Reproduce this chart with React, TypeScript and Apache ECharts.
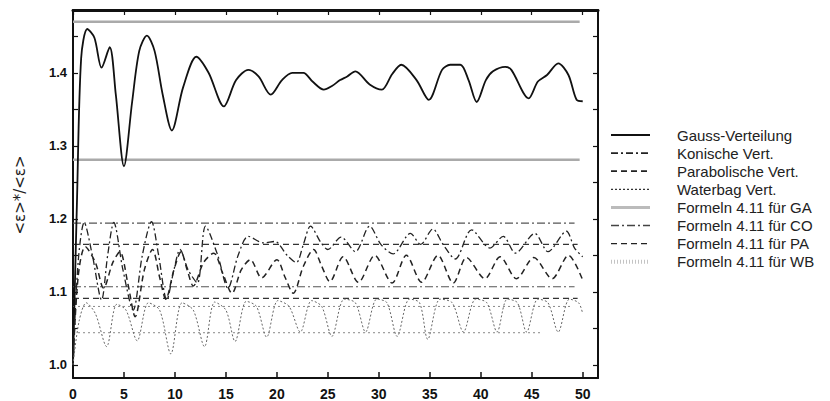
import React, { useEffect, useRef } from "react";
import * as echarts from "echarts";

// ---------- data ----------
const xTicks = [0, 5, 10, 15, 20, 25, 30, 35, 40, 45, 50];
const yLabels = [1.0, 1.1, 1.2, 1.3, 1.4];
const yTicks = [1.0, 1.05, 1.1, 1.15, 1.2, 1.25, 1.3, 1.35, 1.4, 1.45];

const seriesNames = [
  "Gauss-Verteilung",
  "Konische Vert.",
  "Parabolische Vert.",
  "Waterbag Vert.",
  "Formeln 4.11 für GA",
  "Formeln 4.11 für CO",
  "Formeln 4.11 für PA",
  "Formeln 4.11 für WB",
];

const gauss: [number, number][] = [
  [0, 1.0], [0.4, 1.23], [0.8, 1.42], [1.4, 1.46], [2.1, 1.448], [2.8, 1.407],
  [3.6, 1.435], [4.2, 1.37], [5.0, 1.272], [5.8, 1.36], [6.5, 1.43], [7.25, 1.451],
  [8.0, 1.43], [8.8, 1.37], [9.7, 1.321], [10.8, 1.38], [12.1, 1.422], [13.3, 1.4],
  [14.8, 1.354], [16.0, 1.39], [17.2, 1.404], [18.2, 1.395], [19.4, 1.37], [20.5, 1.39],
  [21.5, 1.4], [22.6, 1.4], [23.5, 1.388], [24.6, 1.377], [25.4, 1.382], [26.2, 1.39],
  [26.9, 1.395], [27.7, 1.402], [29.1, 1.384], [30.3, 1.377], [31.3, 1.398], [32.2, 1.411],
  [33.7, 1.39], [34.9, 1.363], [36.2, 1.404], [37.0, 1.411], [38.0, 1.411], [38.8, 1.39],
  [39.6, 1.36], [40.5, 1.39], [41.2, 1.402], [42.4, 1.408], [43.0, 1.404], [44.7, 1.365],
  [45.6, 1.388], [46.5, 1.397], [47.6, 1.413], [48.6, 1.397], [49.4, 1.363], [50.0, 1.361],
];

const konisch: [number, number][] = [
  [0, 1.0], [0.5, 1.14], [1.1, 1.195], [1.9, 1.15], [2.8, 1.089], [3.4, 1.15],
  [4.0, 1.195], [4.9, 1.13], [5.9, 1.075], [6.8, 1.15], [7.7, 1.196], [8.4, 1.15],
  [9.2, 1.089], [9.9, 1.13], [10.5, 1.158], [11.3, 1.13], [12.2, 1.112], [13.0, 1.19],
  [14.2, 1.15], [15.2, 1.105], [16.2, 1.15], [17.2, 1.176], [18.7, 1.167], [19.8, 1.169],
  [21.0, 1.15], [21.9, 1.14], [22.6, 1.165], [23.3, 1.19], [24.3, 1.168], [25.0, 1.158],
  [26.3, 1.175], [27.7, 1.155], [29.1, 1.19], [30.2, 1.165], [31.4, 1.152], [33.1, 1.18],
  [34.1, 1.165], [35.3, 1.186], [36.3, 1.165], [37.5, 1.145], [39.1, 1.185], [40.9, 1.16],
  [42.2, 1.176], [43.4, 1.153], [45.3, 1.18], [46.6, 1.155], [48.4, 1.183], [49.2, 1.16],
  [50.0, 1.148],
];

const parabol: [number, number][] = [
  [0, 1.0], [0.5, 1.12], [1.2, 1.162], [2.2, 1.14], [3.0, 1.105], [3.9, 1.14],
  [4.6, 1.155], [5.4, 1.11], [6.1, 1.066], [7.0, 1.13], [7.8, 1.158], [8.5, 1.12],
  [9.1, 1.09], [9.9, 1.13], [10.6, 1.155], [11.2, 1.13], [11.8, 1.108], [12.8, 1.14],
  [13.8, 1.153], [14.7, 1.125], [15.6, 1.098], [16.5, 1.13], [17.4, 1.144], [18.5, 1.119],
  [20.0, 1.144], [20.8, 1.12], [21.6, 1.098], [22.6, 1.135], [23.6, 1.158], [24.4, 1.135],
  [25.2, 1.114], [26.5, 1.148], [28.0, 1.113], [29.6, 1.15], [31.3, 1.112], [32.7, 1.15],
  [34.2, 1.113], [35.8, 1.15], [37.3, 1.112], [38.6, 1.147], [40.4, 1.118], [41.9, 1.148],
  [43.5, 1.118], [45.2, 1.147], [47.0, 1.118], [48.6, 1.15], [50.0, 1.116],
];

const waterbag: [number, number][] = [
  [0, 1.0], [0.6, 1.06], [1.3, 1.085], [2.2, 1.07], [3.3, 1.025], [4.3, 1.083],
  [5.2, 1.075], [6.3, 1.033], [7.4, 1.085], [8.5, 1.075], [9.6, 1.015], [10.7, 1.085],
  [11.8, 1.075], [12.9, 1.025], [13.9, 1.086], [15.0, 1.075], [15.9, 1.032], [17.0, 1.087],
  [18.0, 1.08], [19.0, 1.038], [20.1, 1.088], [21.2, 1.08], [22.3, 1.045], [23.4, 1.088],
  [24.4, 1.08], [25.4, 1.039], [26.6, 1.09], [27.7, 1.085], [28.7, 1.045], [29.8, 1.09],
  [30.8, 1.085], [31.8, 1.039], [33.0, 1.09], [34.0, 1.085], [34.8, 1.035], [36.0, 1.09],
  [37.2, 1.085], [38.3, 1.045], [39.5, 1.09], [40.6, 1.085], [41.6, 1.045], [42.6, 1.09],
  [43.6, 1.085], [44.5, 1.045], [45.6, 1.09], [46.6, 1.085], [47.6, 1.045], [48.7, 1.09],
  [49.6, 1.085], [50.0, 1.07],
];

// horizontal limits from "Formeln 4.11": [level, xStart, xEnd]
const gaLevels: [number, number, number][] = [[1.47, 0, 49.7], [1.281, 0, 49.7]];
const coLevels: [number, number, number][] = [[1.194, 0, 49.2], [1.107, 0, 49.2]];
const paLevels: [number, number, number][] = [[1.165, 0, 49.5], [1.091, 0, 49.5]];
const wbLevels: [number, number, number][] = [[1.08, 0, 49.0], [1.044, 0, 46.0]];

// line styles of the eight entries (plot + legend sample)
const styles: { color: string; width: number; dash: number[] | null; legendColor?: string; legendWidth?: number; legendDash?: number[] }[] = [
  { color: "#111", width: 1.8, dash: null, legendWidth: 2 },
  { color: "#222", width: 1.3, dash: [7, 3, 2, 3], legendWidth: 1.6 },
  { color: "#222", width: 1.5, dash: [6, 4], legendWidth: 1.8 },
  { color: "#666", width: 1, dash: [2, 2], legendColor: "#333", legendWidth: 1.3 },
  { color: "#aaa", width: 2.5, dash: null, legendColor: "#bbb", legendWidth: 3 },
  { color: "#555", width: 1.2, dash: [8, 3, 2, 3], legendColor: "#444", legendWidth: 1.3 },
  { color: "#333", width: 1.2, dash: [6, 4], legendColor: "#222", legendWidth: 1.2 },
  { color: "#888", width: 1, dash: [2, 3], legendColor: "#c4c4c4", legendWidth: 4, legendDash: [1, 2] },
];

export default function App() {
  const ref = useRef<HTMLDivElement>(null);

  useEffect(() => {
    if (!ref.current) return;
    const chart = echarts.init(ref.current, undefined, { renderer: "svg" });

    const ls = (i: number) => ({
      color: styles[i].color,
      width: styles[i].width,
      type: styles[i].dash ? styles[i].dash : "solid",
    });

    const curve = (i: number, data: [number, number][]) => ({
      name: seriesNames[i],
      type: "line",
      data,
      smooth: 0.3,
      symbol: "none",
      lineStyle: ls(i),
      itemStyle: { color: styles[i].color },
      z: 3,
    });

    const hlines = (i: number, levels: [number, number, number][]) =>
      levels.map(([y, x0, x1]) => ({
        name: seriesNames[i],
        type: "line",
        data: [[x0, y], [x1, y]],
        symbol: "none",
        lineStyle: ls(i),
        itemStyle: { color: styles[i].color },
        z: 2,
      }));

    const font = "Liberation Sans";
    const axisCommon = {
      type: "value",
      splitLine: { show: false },
      axisLine: { show: true, onZero: false, lineStyle: { color: "#111", width: 2 } },
    };

    // legend drawn as graphic (line sample + text per entry)
    const legendTop = 135;
    const legendStep = 18.1;
    const legendGraphics: any[] = [];
    seriesNames.forEach((name, i) => {
      const s = styles[i];
      const y = legendTop + i * legendStep;
      legendGraphics.push({
        type: "line",
        shape: { x1: 611, y1: y, x2: 650, y2: y },
        style: {
          stroke: s.legendColor || s.color,
          lineWidth: s.legendWidth || s.width,
          lineDash: s.legendDash || s.dash || null,
        },
      });
      legendGraphics.push({
        type: "text",
        x: 677,
        y,
        style: {
          text: name,
          fontFamily: font,
          fontSize: 15,
          fill: "#222",
          align: "left",
          verticalAlign: "middle",
        },
      });
    });

    chart.setOption({
      animation: false,
      backgroundColor: "#fff",
      grid: { left: 73, right: 232, top: 10, bottom: 23, show: false },
      xAxis: [
        {
          ...axisCommon,
          min: 0,
          max: 51.5,
          position: "bottom",
          axisTick: { show: true, inside: true, length: 6, customValues: xTicks, lineStyle: { color: "#111", width: 1.5 } },
          axisLabel: { customValues: xTicks, fontFamily: font, fontSize: 14, fontWeight: "bold", color: "#111", margin: 9 },
        },
        {
          ...axisCommon,
          min: 0,
          max: 51.5,
          position: "top",
          axisLine: { show: true, onZero: false, lineStyle: { color: "#111", width: 3 } },
          axisTick: { show: true, inside: true, length: 5, customValues: xTicks, lineStyle: { color: "#111", width: 1.2 } },
          axisLabel: { show: false },
        },
      ],
      yAxis: [
        {
          ...axisCommon,
          min: 0.982,
          max: 1.486,
          position: "left",
          axisTick: { show: true, inside: true, length: 5, customValues: yTicks, lineStyle: { color: "#111", width: 1.2 } },
          axisLabel: {
            customValues: yLabels,
            formatter: (v: number) => v.toFixed(1),
            fontFamily: font,
            fontSize: 13,
            fontWeight: "bold",
            color: "#111",
            margin: 6,
          },
        },
        {
          ...axisCommon,
          min: 0.982,
          max: 1.486,
          position: "right",
          axisTick: { show: true, inside: true, length: 5, customValues: yTicks, lineStyle: { color: "#111", width: 1.2 } },
          axisLabel: { show: false },
        },
      ],
      graphic: [
        {
          type: "text",
          x: 20,
          y: 195,
          rotation: Math.PI / 2,
          style: {
            text: "<ε>*/<ε>",
            fontFamily: "DejaVu Sans",
            fontSize: 15,
            fill: "#222",
            align: "center",
            verticalAlign: "middle",
          },
        },
        ...legendGraphics,
      ],
      series: [
        curve(0, gauss),
        curve(1, konisch),
        curve(2, parabol),
        curve(3, waterbag),
        ...hlines(4, gaLevels),
        ...hlines(5, coLevels),
        ...hlines(6, paLevels),
        ...hlines(7, wbLevels),
      ],
    });

    return () => chart.dispose();
  }, []);

  return (
    <div
      ref={ref}
      style={{ position: "fixed", left: 0, top: 0, width: 830, height: 401, background: "#fff" }}
    />
  );
}
